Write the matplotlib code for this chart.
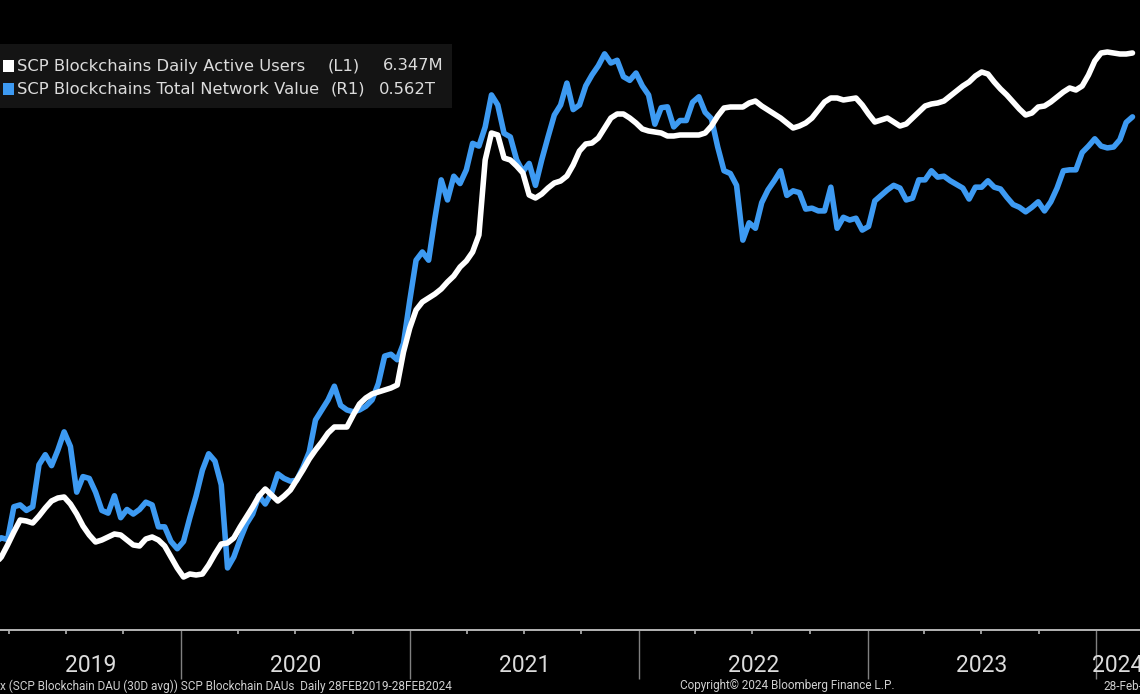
import matplotlib
matplotlib.use("Agg")
import matplotlib.pyplot as plt
import matplotlib.dates as mdates
from matplotlib.patches import Rectangle
import pandas as pd
import numpy as np

# ---------------- data ----------------
start_date = "2019-02-28"
end_date = "2024-02-28"
n_points = 183

dau_millions = [
    0.682, 0.726, 0.803, 0.935, 1.078, 1.210, 1.199, 1.177, 1.254, 1.342,
    1.419, 1.452, 1.463, 1.386, 1.276, 1.144, 1.045, 0.968, 0.990, 1.023,
    1.056, 1.045, 0.990, 0.935, 0.924, 1.001, 1.023, 0.990, 0.924, 0.803,
    0.682, 0.583, 0.616, 0.605, 0.616, 0.715, 0.836, 0.946, 0.957, 1.012,
    1.133, 1.243, 1.353, 1.474, 1.551, 1.485, 1.419, 1.474, 1.540, 1.650,
    1.760, 1.881, 1.980, 2.068, 2.167, 2.233, 2.233, 2.233, 2.365, 2.486,
    2.552, 2.596, 2.618, 2.640, 2.662, 2.695, 3.058, 3.322, 3.520, 3.608,
    3.652, 3.696, 3.751, 3.828, 3.894, 3.993, 4.059, 4.158, 4.345, 5.170,
    5.467, 5.445, 5.192, 5.170, 5.104, 5.027, 4.785, 4.752, 4.796, 4.862,
    4.917, 4.939, 4.994, 5.115, 5.269, 5.346, 5.357, 5.412, 5.522, 5.632,
    5.676, 5.676, 5.632, 5.577, 5.511, 5.489, 5.478, 5.467, 5.434, 5.434,
    5.445, 5.445, 5.445, 5.445, 5.467, 5.544, 5.654, 5.742, 5.753, 5.753,
    5.753, 5.797, 5.819, 5.764, 5.720, 5.676, 5.632, 5.577, 5.522, 5.544,
    5.577, 5.632, 5.720, 5.808, 5.852, 5.852, 5.830, 5.841, 5.852, 5.775,
    5.676, 5.588, 5.610, 5.632, 5.588, 5.544, 5.566, 5.632, 5.698, 5.764,
    5.786, 5.797, 5.819, 5.874, 5.929, 5.984, 6.028, 6.094, 6.138, 6.116,
    6.028, 5.951, 5.885, 5.808, 5.731, 5.665, 5.687, 5.753, 5.764, 5.808,
    5.863, 5.918, 5.962, 5.940, 5.984, 6.105, 6.259, 6.347, 6.358, 6.347,
    6.336, 6.336, 6.347,
]

network_value_trillions = [
    0.090, 0.096, 0.101, 0.099, 0.135, 0.137, 0.131, 0.135, 0.181, 0.192,
    0.180, 0.197, 0.217, 0.201, 0.151, 0.168, 0.166, 0.151, 0.131, 0.128,
    0.147, 0.123, 0.132, 0.127, 0.132, 0.140, 0.137, 0.113, 0.113, 0.097,
    0.089, 0.097, 0.123, 0.147, 0.175, 0.193, 0.185, 0.159, 0.068, 0.080,
    0.099, 0.116, 0.127, 0.147, 0.138, 0.150, 0.171, 0.166, 0.163, 0.164,
    0.178, 0.195, 0.230, 0.241, 0.252, 0.267, 0.246, 0.241, 0.239, 0.241,
    0.245, 0.252, 0.270, 0.300, 0.302, 0.296, 0.314, 0.361, 0.405, 0.414,
    0.405, 0.451, 0.493, 0.471, 0.497, 0.489, 0.504, 0.533, 0.530, 0.551,
    0.586, 0.575, 0.544, 0.540, 0.515, 0.502, 0.511, 0.487, 0.515, 0.540,
    0.564, 0.575, 0.599, 0.570, 0.575, 0.596, 0.608, 0.618, 0.631, 0.621,
    0.624, 0.606, 0.602, 0.610, 0.596, 0.586, 0.554, 0.572, 0.573, 0.551,
    0.558, 0.558, 0.578, 0.584, 0.567, 0.560, 0.529, 0.503, 0.500, 0.487,
    0.427, 0.446, 0.440, 0.468, 0.482, 0.492, 0.503, 0.476, 0.481, 0.479,
    0.461, 0.462, 0.459, 0.459, 0.485, 0.440, 0.452, 0.449, 0.451, 0.438,
    0.442, 0.470, 0.476, 0.482, 0.487, 0.484, 0.471, 0.473, 0.493, 0.493,
    0.503, 0.496, 0.497, 0.492, 0.488, 0.484, 0.472, 0.485, 0.485, 0.492,
    0.485, 0.483, 0.474, 0.466, 0.463, 0.458, 0.463, 0.469, 0.459, 0.469,
    0.484, 0.503, 0.504, 0.504, 0.523, 0.530, 0.538, 0.530, 0.528, 0.529,
    0.537, 0.556, 0.562,
]

legend_names = ["SCP Blockchains Daily Active Users", "SCP Blockchains Total Network Value"]
legend_tags = ["(L1)", "(R1)"]
legend_values = ["6.347M", "0.562T"]
year_labels = ["2019", "2020", "2021", "2022", "2023", "2024"]
footnote_left = "x (SCP Blockchain DAU (30D avg)) SCP Blockchain DAUs  Daily 28FEB2019-28FEB2024"
footnote_mid = "Copyright\u00a9 2024 Bloomberg Finance L.P."
footnote_right = "28-Feb-2024"

dates = pd.date_range(start_date, end_date, periods=n_points)

# ---------------- style ----------------
W, H = 1140, 694
BG = "#000000"
BLUE = "#3d9af2"
WHITE = "#ffffff"
TXT = "#dcdcdc"
NARROW = ["Roboto", "DejaVu Sans"]

fig = plt.figure(figsize=(W / 100, H / 100), dpi=100, facecolor=BG)
ax = fig.add_axes([0, 64 / H, 1, 630 / H])
ax2 = ax.twinx()

ax2.plot(dates, network_value_trillions, color=BLUE, lw=4.0,
         solid_joinstyle="round", solid_capstyle="round")
ax.plot(dates, dau_millions, color=WHITE, lw=4.0,
        solid_joinstyle="round", solid_capstyle="round")

ax.set_zorder(ax2.get_zorder() + 1)
ax.patch.set_visible(False)
ax2.patch.set_facecolor(BG)

x_left = pd.Timestamp("2019-03-18")
x_right = pd.Timestamp("2024-03-11")
ax.set_xlim(x_left, x_right)
ax.set_ylim(0, 6.93)
ax2.set_ylim(0, 0.690)

for a in (ax, ax2):
    for s in ("top", "left", "right", "bottom"):
        a.spines[s].set_visible(False)
    a.set_yticks([])
ax.spines["bottom"].set_visible(True)
ax.spines["bottom"].set_color("#b4b4b4")
ax.spines["bottom"].set_linewidth(1.4)

ax.xaxis.set_major_locator(mdates.YearLocator())
ax.xaxis.set_minor_locator(mdates.MonthLocator(bymonth=[4, 7, 10]))
ax.tick_params(axis="x", which="major", length=35, width=1.0, color="#808080",
               direction="out", labelbottom=False)
ax.tick_params(axis="x", which="minor", length=3, width=1.2, color="#b4b4b4",
               direction="out", labelbottom=False)
ax2.tick_params(axis="x", which="both", length=0, labelbottom=False)

# year labels centred in each visible year span
for lab in year_labels:
    y = int(lab)
    a0 = max(pd.Timestamp(f"{y}-01-01"), x_left)
    a1 = min(pd.Timestamp(f"{y + 1}-01-01"), x_right)
    mid = a0 + (a1 - a0) / 2
    ax.text(mid, -35 / 630 * 6.93, lab, ha="center", va="center",
            color=TXT, fontsize=16.5, family=NARROW, clip_on=False)

# footnotes
fig.text(0 / W, 1 - 686 / H, footnote_left, ha="left", va="center",
         color="#cfcfcf", fontsize=8.5, family=NARROW)
fig.text(680 / W, 1 - 686 / H, footnote_mid, ha="left", va="center",
         color="#cfcfcf", fontsize=8.5, family=NARROW)
fig.text(1103 / W, 1 - 686 / H, footnote_right, ha="left", va="center",
         color="#cfcfcf", fontsize=8.5, family=NARROW)

# legend box
box = Rectangle((0, 1 - 108 / H), 452 / W, 64 / H, transform=fig.transFigure,
                facecolor="#141414", edgecolor="none", zorder=20)
fig.add_artist(box)
sq_colors = [WHITE, BLUE]
row_y = [66, 89]
tag_x = [328, 331]
value_x = [383, 379]
for i in range(2):
    yc = row_y[i]
    sq = Rectangle((3 / W, 1 - (yc + 6) / H), 11 / W, 12 / H, transform=fig.transFigure,
                   facecolor=sq_colors[i], edgecolor="none", zorder=21)
    fig.add_artist(sq)
    fig.text(17 / W, 1 - yc / H, legend_names[i], ha="left", va="center",
             color=TXT, fontsize=11.8, zorder=22)
    fig.text(tag_x[i] / W, 1 - yc / H, legend_tags[i], ha="left", va="center",
             color=TXT, fontsize=11.8, zorder=22)
    fig.text(value_x[i] / W, 1 - yc / H, legend_values[i], ha="left", va="center",
             color=TXT, fontsize=11.8, zorder=22)

fig.savefig("out.png", dpi=100, facecolor=BG)
